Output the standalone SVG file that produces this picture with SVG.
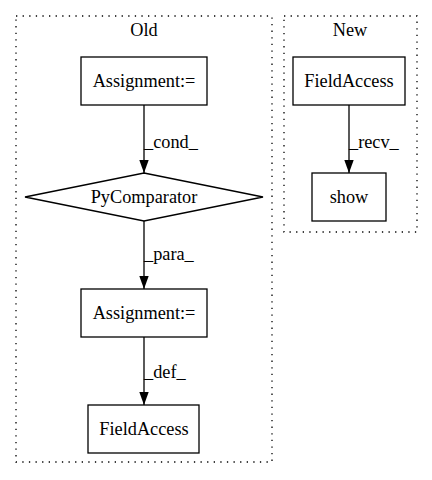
<svg xmlns="http://www.w3.org/2000/svg" width="432" height="480" viewBox="0 0 432 480">
<style>
text{font-family:'Liberation Serif','Times New Roman',Times,serif;font-size:18.3px;fill:#000;text-anchor:middle}
.c{fill:none;stroke:#000;stroke-width:1.3;stroke-dasharray:1.3,5.3}
.n{fill:none;stroke:#000;stroke-width:1.3}
.e{fill:none;stroke:#000;stroke-width:1.3}
.l{text-anchor:start}
</style>
<defs>
<marker id="a" markerWidth="13" markerHeight="10" refX="13" refY="5" orient="auto" markerUnits="userSpaceOnUse">
<polygon points="0,0.3 13,5 0,9.7" fill="#000"/>
</marker>
</defs>
<rect width="432" height="480" fill="#fff"/>
<g id="cluster_old">
<rect class="c" x="16" y="16" width="256" height="446"/>
<text x="144" y="36">Old</text>
</g>
<g id="cluster_new">
<rect class="c" x="284" y="16" width="133" height="216"/>
<text x="350" y="36">New</text>
</g>
<g id="connectors">
<path class="e" d="M144,105 L144,173" marker-end="url(#a)"/>
<text class="l" x="144" y="148">_cond_</text>
<path class="e" d="M144,221 L144,289" marker-end="url(#a)"/>
<text class="l" x="144" y="260">_para_</text>
<path class="e" d="M144,337 L144,405" marker-end="url(#a)"/>
<text class="l" x="144" y="378">_def_</text>
<path class="e" d="M349,105 L349,173" marker-end="url(#a)"/>
<text class="l" x="349" y="148">_recv_</text>
</g>
<g id="assign1">
<rect class="n" x="81" y="57" width="126" height="48"/>
<text x="144" y="87">Assignment:=</text>
</g>
<g id="pycomparator">
<polygon class="n" points="144,173 263,197 144,221 25,197"/>
<text x="144" y="203">PyComparator</text>
</g>
<g id="assign2">
<rect class="n" x="81" y="289" width="126" height="48"/>
<text x="144" y="319">Assignment:=</text>
</g>
<g id="fieldaccess_old">
<rect class="n" x="88" y="405" width="111" height="48"/>
<text x="144" y="435">FieldAccess</text>
</g>
<g id="fieldaccess_new">
<rect class="n" x="293" y="57" width="112" height="48"/>
<text x="349" y="87">FieldAccess</text>
</g>
<g id="show">
<rect class="n" x="312" y="173" width="74" height="48"/>
<text x="349" y="203">show</text>
</g>
</svg>
